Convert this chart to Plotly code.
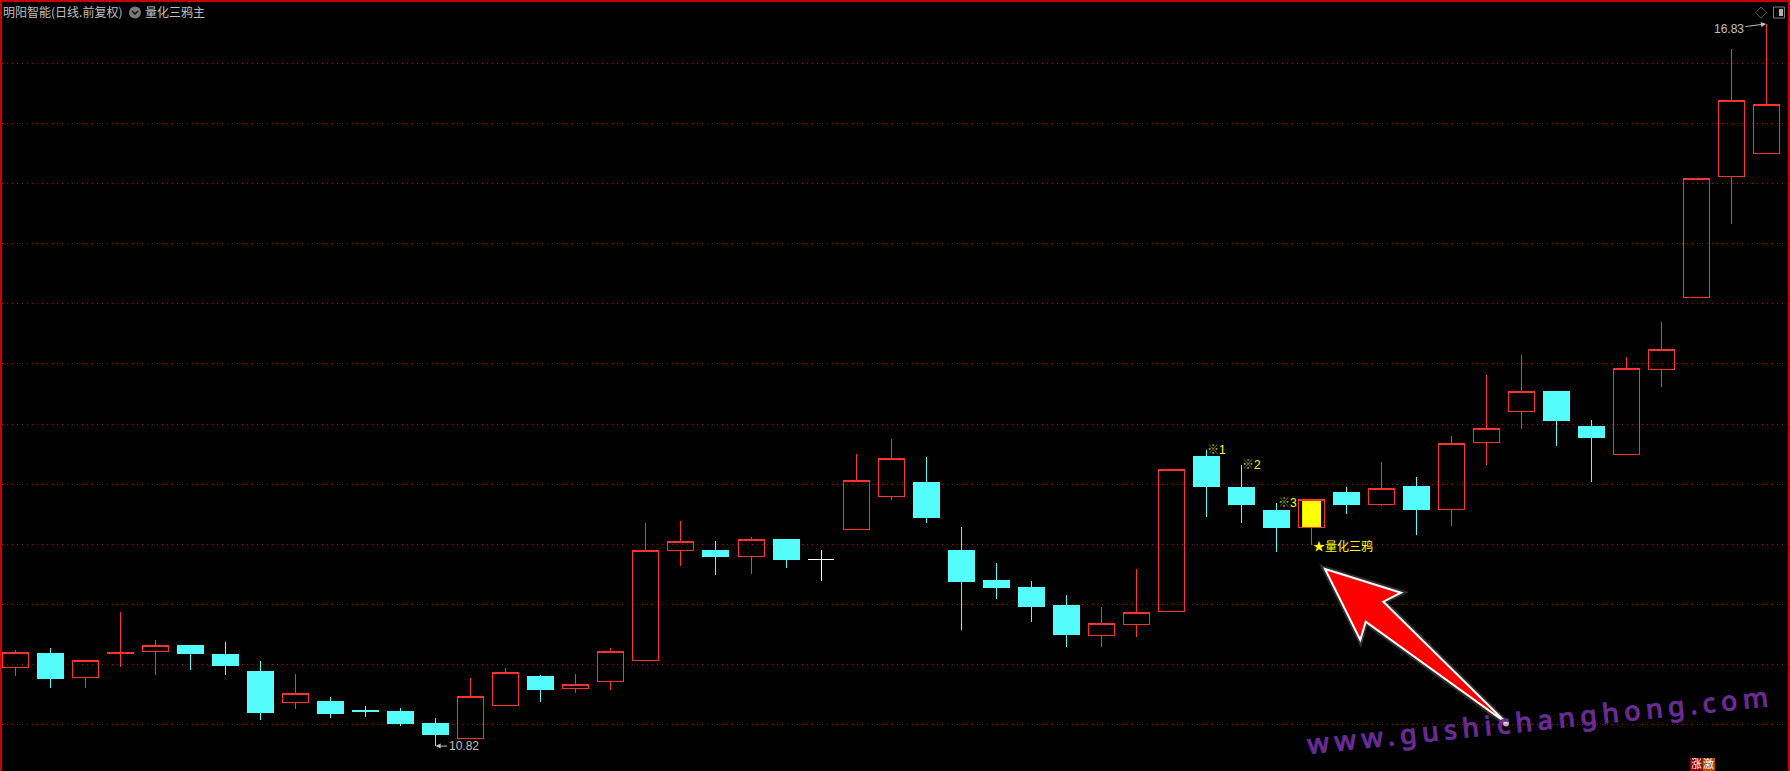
import plotly.graph_objects as go

# ---- data (price units) ----
opens = [11.47,11.59,11.39,11.59,11.61,11.66,11.58,11.44,11.18,11.19,11.115,11.11,11.01,10.88,11.16,11.40,11.30,11.36,11.53,12.45,
         12.45,12.40,12.535,None,12.62,12.90,13.01,12.45,12.20,12.14,11.99,11.74,11.83,11.94,13.23,12.97,12.78,12.64,12.93,12.83,
         12.98,12.79,13.35,13.60,13.77,13.48,13.25,13.95,14.55,15.56,15.75]
highs = [11.62,11.64,11.53,11.94,11.70,11.66,11.69,11.53,11.42,11.23,11.15,11.14,11.05,11.39,11.47,11.41,11.42,11.64,12.68,12.69,
         12.53,12.56,12.54,None,13.25,13.375,13.225,12.64,12.34,12.19,12.08,11.98,12.29,13.12,13.28,13.16,12.84,12.87,12.98,13.18,
         13.06,13.40,13.91,14.07,13.77,13.53,14.06,14.35,15.54,16.62,16.83]
lows = [11.40,11.30,11.30,11.48,11.41,11.45,11.41,11.04,11.13,11.05,11.06,10.99,10.82,10.88,11.16,11.19,11.26,11.29,11.53,12.32,
        12.24,12.25,12.30,None,12.62,12.87,12.68,11.79,12.04,11.85,11.645,11.645,11.73,11.94,12.73,12.68,12.435,12.49,12.75,12.82,
        12.58,12.65,13.16,13.46,13.32,13.02,13.25,13.81,14.55,15.16,15.75]
closes = [11.60,11.38,11.53,11.60,11.66,11.59,11.49,11.10,11.26,11.09,11.11,11.01,10.92,11.23,11.43,11.295,11.33,11.61,12.45,12.52,
          12.40,12.54,12.37,None,13.03,13.21,12.72,12.19,12.14,11.98,11.75,11.84,11.93,13.12,12.98,12.83,12.635,12.87,12.83,12.965,
          12.79,13.34,13.46,13.77,13.53,13.39,13.96,14.12,15.54,16.19,16.16]
candle_index = list(range(len(closes)))

doji_index = [23]
doji_open = [12.37]
doji_high = [12.45]
doji_low = [12.19]
doji_close = [12.37]

crow_labels = ["※1", "※2", "※3"]
crow_index = [34, 35, 36]
signal_index = 37
signal_label = "★量化三鸦"
grid_prices = [11 + 0.5 * k for k in range(12)]
minor_prices = [11.25 + 0.5 * k for k in range(12)]
high_index, high_label = 50, "16.83"
low_index, low_label = 12, "10.82"

W, H = 1790, 771
L, R, T, B = 2, 2, 2, 0
RED, CYAN, FRAME = "#FF3232", "#54FCFC", "#C80000"
GREY = "#C0C0C0"
CJK = "Noto Sans CJK SC"

def X(p): return (p - L) / (W - L - R)
def Y(p): return 1 - (p - T) / (H - T - B)
def path(pts, close=True):
    s = "M " + " L ".join(f"{X(a):.5f} {Y(b):.5f}" for a, b in pts)
    return s + (" Z" if close else "")

fig = go.Figure()
fig.add_trace(go.Bar(x=[signal_index], y=[closes[signal_index] - opens[signal_index]], base=[opens[signal_index]],
                     width=[0.54], marker=dict(color="#FFFF00", line=dict(width=0)), showlegend=False, hoverinfo="skip"))
fig.add_trace(go.Candlestick(
    x=candle_index, open=opens, high=highs, low=lows, close=closes, whiskerwidth=0, showlegend=False,
    increasing=dict(line=dict(color=RED, width=1), fillcolor="rgba(0,0,0,0)"),
    decreasing=dict(line=dict(color=CYAN, width=1), fillcolor=CYAN)))
fig.add_trace(go.Candlestick(
    x=doji_index, open=doji_open, high=doji_high, low=doji_low, close=doji_close, whiskerwidth=0, showlegend=False,
    increasing=dict(line=dict(color="#FFFFFF", width=1), fillcolor="#FFFFFF"),
    decreasing=dict(line=dict(color="#FFFFFF", width=1), fillcolor="#FFFFFF")))

arrow_pts = [(1325, 569), (1401, 592.7), (1383.3, 601.7), (1506.7, 723.3), (1365.7, 621.7), (1360.3, 640)]
shapes = [
    dict(type="path", xref="paper", yref="paper", path=path(arrow_pts),
         line=dict(color="rgba(255,255,255,0.18)", width=6), fillcolor="rgba(0,0,0,0)"),
    dict(type="path", xref="paper", yref="paper", path=path(arrow_pts),
         line=dict(color="#FFFFFF", width=2), fillcolor="#FF0000"),
    dict(type="circle", xref="paper", yref="paper", x0=X(1503), x1=X(1509), y0=Y(720.5), y1=Y(726.5),
         fillcolor="rgba(240,200,250,0.8)", line=dict(width=0)),
    # header chip
    dict(type="circle", xref="paper", yref="paper", x0=X(129), x1=X(141), y0=Y(6.5), y1=Y(18.5),
         fillcolor="#7A7A7A", line=dict(width=0)),
    dict(type="path", xref="paper", yref="paper", path=path([(132, 11), (135, 14), (138, 11)], close=False),
         line=dict(color="#111111", width=1.5)),
    # top-right icons
    dict(type="path", xref="paper", yref="paper", path=path([(1761, 7), (1766.5, 12.5), (1761, 18), (1755.5, 12.5)]),
         line=dict(color="#5A5A5A", width=1), fillcolor="rgba(0,0,0,0)"),
    dict(type="rect", xref="paper", yref="paper", x0=X(1773.5), x1=X(1784.5), y0=Y(7), y1=Y(18),
         line=dict(color="#808080", width=1), fillcolor="#000000"),
    dict(type="rect", xref="paper", yref="paper", x0=X(1779), x1=X(1783), y0=Y(9), y1=Y(16),
         line=dict(width=0), fillcolor="#B0B0B0"),
    # bottom-right tag backgrounds
    dict(type="rect", xref="paper", yref="paper", x0=X(1690), x1=X(1702.5), y0=Y(758), y1=Y(771),
         line=dict(width=0), fillcolor="#8C0000"),
    dict(type="rect", xref="paper", yref="paper", x0=X(1702.5), x1=X(1715), y0=Y(758), y1=Y(771),
         line=dict(width=0), fillcolor="#B84A00"),
    # left border at the very edge
    dict(type="line", xref="paper", yref="paper", x0=X(1), x1=X(1), y0=0, y1=Y(0), line=dict(color=FRAME, width=2)),
]

def note(x, y, text, **kw):
    base = dict(x=x, y=y, text=text, showarrow=False, xanchor="left", yanchor="middle", borderpad=0, borderwidth=0)
    base.update(kw)
    return base

def crow_note(i, label):
    return note(i, highs[i],
                f'<span style="color:#B4B400"><b>{label[0]}</b></span>{label[1:]}',
                xref="x", yref="y", xshift=1, font=dict(family=f"Liberation Sans, {CJK}", size=12, color="#FFFF00"))

annotations = [
    note(X(3), Y(11), "明阳智能(日线.前复权)", xref="paper", yref="paper", font=dict(family=CJK, size=12, color=GREY)),
    note(X(145), Y(11), "量化三鸦主", xref="paper", yref="paper", font=dict(family=CJK, size=12, color=GREY)),
    dict(x=high_index, y=highs[high_index], xref="x", yref="y", text=high_label, showarrow=True,
         ax=-38, ay=5, axref="pixel", ayref="pixel", arrowcolor=GREY, arrowwidth=1, arrowhead=2, arrowsize=1, standoff=1,
         font=dict(family="Liberation Sans", size=12, color=GREY)),
    dict(x=low_index, y=lows[low_index], xref="x", yref="y", text=low_label, showarrow=True,
         ax=28, ay=0, axref="pixel", ayref="pixel", arrowcolor=GREY, arrowwidth=1, arrowhead=2, arrowsize=1, standoff=0,
         font=dict(family="Liberation Sans", size=12, color=GREY)),
    note(signal_index, lows[signal_index], signal_label, xref="x", yref="y", xshift=1,
         font=dict(family=CJK, size=12, color="#FFFF00")),
    dict(x=X(1540), y=Y(719), xref="paper", yref="paper", showarrow=False, textangle=-5.9,
         xanchor="center", yanchor="middle",
         text='<span style="letter-spacing:5.3px;stroke:#4A3CA8;stroke-width:0.7px">www.gushichanghong.com</span>',
         font=dict(family="Noto Sans", size=27, color="#84208A", weight=500)),
    note(X(1690.5), Y(763), "涨", xref="paper", yref="paper", font=dict(family=CJK, size=11, color="#FFFFFF")),
    note(X(1703), Y(763), "激", xref="paper", yref="paper", font=dict(family=CJK, size=11, color="#FFFFFF")),
] + [crow_note(i, l) for i, l in zip(crow_index, crow_labels)]

fig.update_layout(
    width=W, height=H, margin=dict(l=L, r=R, t=T, b=B, pad=0), autosize=False,
    paper_bgcolor="#000000", plot_bgcolor="#000000", showlegend=False,
    boxgap=0.257, boxgroupgap=0, barmode="overlay", hovermode=False,
    shapes=shapes, annotations=annotations,
    xaxis=dict(range=[-0.38, 50.6], side="top", showgrid=False, zeroline=False, rangeslider=dict(visible=False),
               showline=True, linecolor=FRAME, linewidth=2, ticks="outside", ticklen=2, tickcolor=FRAME, tickwidth=1,
               tickvals=candle_index, showticklabels=False, fixedrange=True),
    yaxis=dict(range=[10.613, 17.011], side="right", tickvals=grid_prices, showticklabels=False, ticks="",
               showgrid=True, gridcolor="#B40000", griddash="1px,4px", gridwidth=1, zeroline=False,
               showline=True, linecolor=FRAME, linewidth=2, fixedrange=True,
               minor=dict(tickvals=minor_prices, ticks="outside", ticklen=2, tickcolor=FRAME, showgrid=False)),
)
post = ("document.body.style.margin='0';document.body.style.overflow='hidden';document.body.style.background='#000';"
        "document.head.insertAdjacentHTML('beforeend','<style>.boxes path{shape-rendering:crispEdges !important}</style>');")
fig.write_html("out.html", config=dict(displayModeBar=False), post_script=post)
